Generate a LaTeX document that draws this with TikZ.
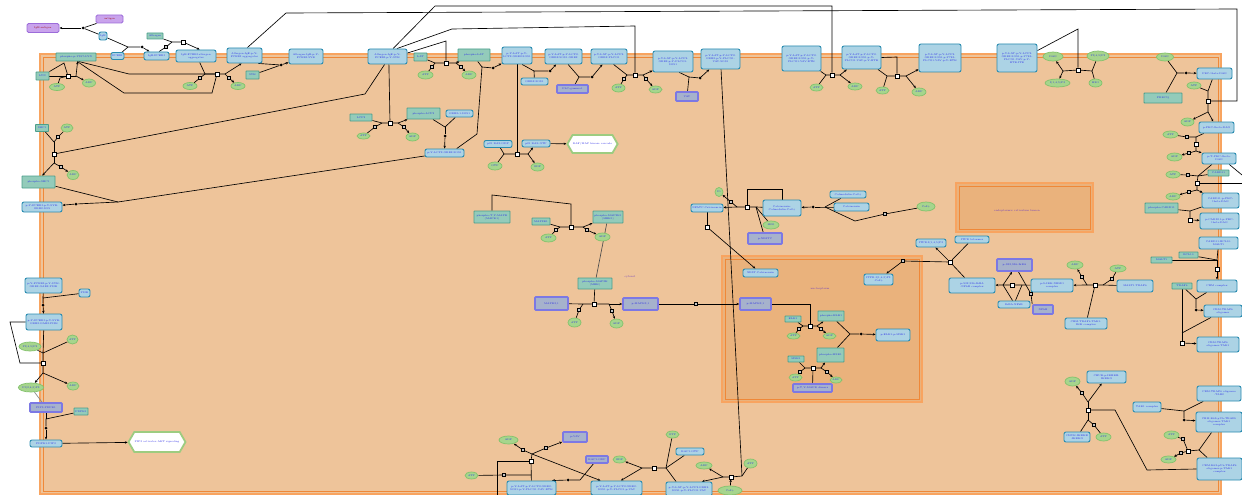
\documentclass[tikz,border=0pt]{standalone}
\usetikzlibrary{arrows.meta,shapes.geometric,shapes.symbols}
\definecolor{cytfill}{HTML}{EEC49A}
\definecolor{nucfill}{HTML}{EAB27C}
\definecolor{compout}{HTML}{F8A460}
\definecolor{compin}{HTML}{EF8838}
\definecolor{cplxfill}{HTML}{ACD3E5}
\definecolor{cplxline}{HTML}{2A8CB0}
\definecolor{protfill}{HTML}{93CBBA}
\definecolor{protline}{HTML}{4C9F8C}
\definecolor{chemfill}{HTML}{A6D58D}
\definecolor{chemline}{HTML}{83C26C}
\definecolor{setfill}{HTML}{A6B2CC}
\definecolor{setline}{HTML}{7C78E4}
\definecolor{pwline}{HTML}{9DCC80}
\definecolor{extfill}{HTML}{C9A3EC}
\definecolor{extline}{HTML}{9C6CDA}
\definecolor{txtblue}{HTML}{2A2AE6}
\definecolor{complab}{HTML}{6A3AC0}
\pgfdeclarelayer{bg}\pgfdeclarelayer{edges}\pgfsetlayers{bg,edges,main}
\tikzset{
 wh/.style 2 args={minimum width=#1pt, minimum height=#2pt},
 lab/.style={font=\fontsize{2.5}{2.9}\selectfont, text=txtblue, align=center, inner sep=0.3pt},
 cplx/.style={lab, draw=cplxline, fill=cplxfill, line width=0.9pt, rounded corners=2pt},
 prot/.style={lab, draw=protline, fill=protfill, line width=0.9pt, rounded corners=0.6pt},
 chem/.style={lab, ellipse, draw=chemline, fill=chemfill, line width=0.7pt},
 setnode/.style={lab, draw=setline, fill=setfill, line width=1.6pt, rounded corners=0.8pt},
 ext/.style={lab, draw=extline, fill=extfill, line width=0.9pt, rounded corners=1.5pt, text=red!60!black},
 pathw/.style={lab, shape=signal, signal to=east and west, signal pointer angle=120, draw=pwline, fill=white, line width=1.8pt},
 procsq/.style={draw=black, fill=white, line width=0.5pt, minimum size=4pt, inner sep=0pt},
 smsq/.style={draw=black, fill=gray!45, line width=0.4pt, minimum size=3pt, inner sep=0pt},
 bdot/.style={circle, fill=black, minimum size=3pt, inner sep=0pt},
 conn/.style={draw=black, line width=0.65pt},
 conna/.style={conn, -{Stealth[length=2.8pt,width=2.4pt]}},
 comptext/.style={font=\fontsize{2.6}{3}\selectfont, text=complab, inner sep=0pt},
}
\begin{document}
\begin{tikzpicture}[x=1pt,y=-1pt]
\useasboundingbox (0,0) rectangle (1242,495);
\begin{pgfonlayer}{bg}
\fill[white] (0,0) rectangle (1242,495);
\draw[draw=compout, line width=1.5pt, fill=cytfill] (40,54) rectangle (1221,494);
\draw[draw=compin, line width=0.7pt] (43,57) rectangle (1218,491);
\draw[draw=compout, line width=1.3pt, fill=nucfill] (722,256) rectangle (922,402);
\draw[draw=compin, line width=0.7pt] (725,259) rectangle (919,399);
\draw[draw=compout, line width=1.3pt, fill=nucfill] (956,183) rectangle (1093,232);
\draw[draw=compin, line width=0.7pt] (959,186) rectangle (1090,229);
\end{pgfonlayer}
\node[comptext] (lcyt) at (630,277) {cytosol};
\node[comptext] (lnuc) at (820,289) {nucleoplasm};
\node[comptext] (ler) at (1017,211) {endoplasmic reticulum lumen};
% ---------- top left ----------
\node[ext, wh={27}{8}] (pA) at (109.5,19) {antigen};
\node[ext, wh={32}{9}] (pB) at (43,28) {IgE:antigen};
\node[cplx, wh={8}{8}] (ige) at (103,36) {IgE};
\node[cplx, wh={13}{7}] (fceri) at (117.5,56) {FCERI};
\node[cplx, wh={25}{8}] (igefc) at (156.5,56) {IgE:FCERI};
\node[prot, wh={16}{6}] (allergen) at (155,36) {Allergen};
\node[cplx, wh={40}{12}] (agg) at (196,56) {IgE:FCERI:allergen\\aggregates};
\node[prot, wh={40}{8}] (psyk) at (76,57) {phospho-p-Y397-LYN};
\node[prot, wh={13}{8}] (lyn) at (42.5,76) {LYN};
\node[chem, wh={15}{7}] (atp1) at (57,87) {ATP};
\node[chem, wh={13}{8}] (adp1) at (89,83) {ADP};
\node[cplx, wh={35}{15}] (pfc) at (244.5,55.5) {Allergen:IgE:p-Y-\\FCERI aggregates};
\node[chem, wh={14}{7}] (atp2) at (190,86) {ATP};
\node[chem, wh={14}{7}] (adp2) at (238,86) {ADP};
\node[prot, wh={13}{8}] (syk) at (252.5,75) {SYK};
\node[cplx, wh={34}{15}] (n306) at (306,56.5) {Allergen:IgE:p-Y-\\FCERI:SYK};
\node[cplx, wh={39}{15}] (cbl) at (387.5,56.5) {Allergen:IgE:p-Y-\\FCERI:p-Y-SYK};
\node[prot, wh={13}{8}] (lat) at (420.5,57) {LAT};
\node[chem, wh={15}{8}] (atp3) at (425.5,75) {ATP};
\node[chem, wh={14}{8}] (adp3) at (469,75) {ADP};
\node[prot, wh={32}{12}] (plat) at (474,55) {phospho-LAT};
\node[prot, wh={22}{7}] (lcp2) at (361,117.5) {LCP2};
\node[chem, wh={13}{6}] (atp4) at (363.5,136) {ATP};
\node[chem, wh={13}{8}] (adp4) at (412.5,137) {ADP};
\node[prot, wh={33}{11}] (plcp2) at (423.5,113.5) {phospho-LCP2};
\node[cplx, wh={27}{7}] (grb) at (459.5,113.5) {GRB2-1:SOS1};
\node[cplx, wh={39}{8}] (lcpgrb) at (444.5,153) {p-Y-LCP2:GRB2:SOS1};
\node[cplx, wh={30}{17}] (latc1) at (517,55.5) {p-Y-LAT:p-Y-\\LCP2:GRB2:SOS1};
\node[cplx, wh={27}{7}] (grbsos2) at (534.5,81.5) {GRB2:SOS1};
\node[cplx, wh={37}{15}] (latc2) at (563.5,56.5) {p-Y-LAT:p-Y-LCP2:\\GRB2:SOS1:GRB2};
\node[setnode, wh={31}{8}] (plcg) at (572.5,89) {PLC-gamma1};
\node[cplx, wh={36}{15}] (latc3) at (609,56.5) {p-Y-LAT:p-Y-LCP2:\\GRB2:PLCG1};
\node[chem, wh={13}{8}] (atp5) at (618.5,88) {ATP};
\node[chem, wh={13}{7}] (adp5) at (655.5,89.5) {ADP};
\node[cplx, wh={40}{21}] (latc4) at (673,61.5) {p-Y-LAT:p-Y-LCP2:\\GRB2:p-Y-PLCG1:\\SOS1};
\node[setnode, wh={22}{9}] (vav) at (687,96.5) {VAV};
\node[cplx, wh={39}{20}] (latc5) at (720.5,59) {p-Y-LAT:p-Y-LCP2:\\GRB2:p-Y-PLCG1:\\VAV:SOS1};
\node[cplx, wh={28}{7}] (rasgdp) at (498,144) {p21 RAS:GDP};
\node[chem, wh={14}{8}] (gtp1) at (495,166) {GTP};
\node[chem, wh={13}{8}] (gdp1) at (537.5,167) {GDP};
\node[cplx, wh={28}{7}] (rasgtp) at (536,143.5) {p21 RAS:GTP};
\node[pathw, wh={45}{18}] (raf) at (592.5,144) {RAF/MAP kinase cascade};
% ---------- top right ----------
\node[cplx, wh={39}{25}] (c801) at (801.5,58.5) {p-Y-LAT:p-Y-LCP2:\\GRB2:SOS1:p-Y-\\PLCG1:VAV:BTK};
\node[chem, wh={13}{7}] (atp6) at (816.5,87.5) {ATP};
\node[chem, wh={14}{7}] (adp6) at (855,86.5) {ADP};
\node[cplx, wh={39}{23}] (c861) at (861.5,57.5) {p-Y-LAT:p-Y-LCP2:\\GRB2:SOS1:p-Y-\\PLCG1:VAV:p-Y-BTK};
\node[chem, wh={13}{7}] (atp7) at (882.5,90.5) {ATP};
\node[chem, wh={14}{8}] (adp7) at (919,92) {ADP};
\node[cplx, wh={42}{28}] (c940) at (940,58) {p-Y-LAT:p-Y-LCP2:\\GRB2:SOS1:p-Y783-\\PLCG1:VAV:p-Y-BTK};
\node[cplx, wh={40}{28}] (c1017) at (1017,58) {p-Y-LAT:p-Y-LCP2:\\GRB2:SOS1:p-Y783-\\PLCG1:VAV:p-Y-\\BTK:ITK};
\node[chem, wh={20}{9}] (e1053) at (1053,56.5) {DAG};
\node[chem, wh={25}{8}] (e1057) at (1057.5,83) {I(1,4,5)P3};
\node[chem, wh={22}{10}] (e1098) at (1098,56) {PI(4,5)P2};
\node[chem, wh={13}{8}] (e1095) at (1095.5,83) {H2O};
\node[chem, wh={17}{8}] (nad) at (1165,57) {DAG};
\node[prot, wh={38}{10}] (g1163) at (1163,98) {PRKCQ};
\node[cplx, wh={35}{11}] (n1214) at (1214.5,73.5) {PKC-theta:DAG};
\node[chem, wh={14}{7}] (atp8) at (1194,85.5) {ATP};
\node[chem, wh={13}{8}] (adp8) at (1187.5,122) {ADP};
\node[cplx, wh={35}{11}] (n1216) at (1216.5,127.5) {p-PKC-theta:DAG};
\node[chem, wh={15}{7}] (e1170) at (1170.5,134.5) {ATP};
\node[chem, wh={15}{8}] (adp9) at (1174.5,157) {ADP};
\node[cplx, wh={34}{11}] (n1219) at (1219,158.5) {p-T-PKC-theta:\\DAG};
\node[prot, wh={21}{6}] (card11) at (1218.5,173) {CARD11};
\node[chem, wh={14}{7}] (atp10) at (1173,174.5) {ATP};
\node[chem, wh={14}{7}] (adp10) at (1173,196.5) {ADP};
\node[cplx, wh={37}{15}] (n1220) at (1220.5,200.5) {CARD11:p-PKC-\\theta:DAG};
\node[prot, wh={33}{10}] (g1161) at (1161.5,208) {phospho-CARD11};
\node[cplx, wh={39}{16}] (n1219b) at (1219.5,221) {p-CARD11:p-PKC-\\theta:DAG};
\node[cplx, wh={39}{12}] (n1218) at (1218.5,243) {CARD11:BCL10:\\MALT1};
\node[prot, wh={19}{6}] (g1188) at (1188.5,255) {BCL10};
\node[prot, wh={21}{6}] (g1161b) at (1161.5,260) {MALT1};
\node[cplx, wh={40}{12}] (n1217) at (1217,286) {CBM complex};
\node[prot, wh={20}{6}] (traf6) at (1182,286) {TRAF6};
\node[cplx, wh={38}{12}] (n1223) at (1223,311) {CBM:TRAF6\\oligomer};
\node[cplx, wh={42}{15}] (n1218b) at (1218,344.5) {CBM:TRAF6\\oligomer:TAK1};
% ---------- middle right ----------
\node[cplx, wh={36}{12}] (n1135) at (1135,286) {MALT1:TRAF6};
\node[chem, wh={16}{7}] (atp11) at (1118,268.5) {ATP};
\node[chem, wh={16}{8}] (adp11) at (1075,265) {ADP};
\node[cplx, wh={42}{13}] (n1052) at (1052,285.5) {p-S-IKK:NEMO\\complex};
\node[cplx, wh={42}{11}] (n1086) at (1086,323.5) {CBM:TRAF6:TAK1:\\IKK complex};
\node[setnode, wh={35}{12}] (set1014) at (1014.5,265) {p-S32,S36-IkBA};
\node[setnode, wh={20}{9}] (set1043) at (1043,309.5) {NFkB};
\node[cplx, wh={32}{7}] (n1014) at (1014,304.5) {IkBA:NFkB};
\node[cplx, wh={46}{15}] (n972) at (972,285.5) {p-S32,S36-IkBA\\:NFkB complex};
\node[cplx, wh={30}{8}] (n931) at (931,243) {ITPR:I(1,4,5)P3};
\node[cplx, wh={34}{7}] (n972b) at (972,239.5) {ITPR tetramer};
\node[cplx, wh={29}{11}] (n878) at (878.5,279.5) {ITPR:I(1,4,5)P3\\:Ca2+};
% ---------- bottom right ----------
\node[cplx, wh={39}{12}] (n1106) at (1106.5,377) {CHUK:p-IKBKB:\\IKBKG};
\node[chem, wh={15}{9}] (e1072) at (1072.5,381.5) {ADP};
\node[cplx, wh={26}{10}] (n1077) at (1077,437) {CHUK:IKBKB\\:IKBKG};
\node[chem, wh={15}{8}] (e1103) at (1103.5,437) {ATP};
\node[cplx, wh={28}{10}] (n1147) at (1147,407) {TAK1 complex};
\node[cplx, wh={44}{15}] (n1219c) at (1219,393.5) {CBM:TRAF6 oligomer\\:TAB2};
\node[cplx, wh={46}{20}] (n1219d) at (1219,422) {CBM:K63-pUb-TRAF6\\oligomer:TAK1\\complex};
\node[chem, wh={15}{8}] (atp12) at (1171.5,435) {ATP};
\node[chem, wh={15}{7}] (adp12) at (1168.5,459.5) {ADP};
\node[cplx, wh={45}{22}] (n1219e) at (1219.5,469) {CBM:K63-pUb-TRAF6\\oligomer:p-TAK1\\complex};
% ---------- center ----------
\node[cplx, wh={32}{8}] (n707) at (707,208) {NFATC:Calcineurin};
\node[chem, wh={8}{9}] (ca1) at (719,192) {Pi};
\node[cplx, wh={38}{16}] (n782) at (782,208) {Calcineurin:\\Calmodulin:Ca2+};
\node[chem, wh={16}{8}] (h2o) at (771,225) {H2O};
\node[setnode, wh={34}{11}] (set765) at (765,238.5) {p-NFATC};
\node[cplx, wh={36}{7}] (n848) at (848,194.5) {Calmodulin:Ca2+};
\node[cplx, wh={35}{8}] (n851) at (851.5,207) {Calcineurin};
\node[chem, wh={18}{9}] (e926) at (926,206.5) {Ca2+};
\node[cplx, wh={35}{8}] (n760) at (760.5,273) {NFAT:Calcineurin};
\node[prot, wh={36}{12}] (g492) at (492,217) {phospho-T,Y-MAPK\\(MAPK1)};
\node[prot, wh={18}{7}] (g541) at (541,221.5) {MAP2K1};
\node[chem, wh={15}{8}] (atp13) at (548.5,238) {ATP};
\node[prot, wh={30}{12}] (g608) at (608,217) {phospho-MAP2K1\\(MEK1)};
\node[chem, wh={15}{8}] (adp13) at (602.5,237) {ADP};
\node[prot, wh={34}{11}] (g595) at (595,283.5) {phospho-MAP2K\\(MEK)};
\node[setnode, wh={33}{13}] (set551) at (551.5,303.5) {MAPK3,1};
\node[chem, wh={13}{9}] (atp14) at (574.5,322.5) {ATP};
\node[chem, wh={13}{9}] (adp14) at (616.5,323.5) {ADP};
\node[setnode, wh={35}{12}] (set640) at (640.5,304) {p-MAPK3,1};
\node[setnode, wh={31}{12}] (set755) at (755.5,304) {p-MAPK3,1};
\node[prot, wh={16}{6}] (g793) at (793,319) {ELK1};
\node[chem, wh={13}{6}] (e793) at (793.5,336) {ATP};
\node[prot, wh={26}{10}] (g831) at (831,316) {phospho-ELK1};
\node[chem, wh={13}{6}] (e829) at (829.5,336) {ADP};
\node[cplx, wh={34}{12}] (n893) at (893,335) {p-ELK1:p-MSK1};
\node[prot, wh={27}{14}] (g830) at (830.5,355) {phospho-MSK1};
\node[prot, wh={16}{6}] (g796) at (796,359) {MSK1};
\node[chem, wh={13}{7}] (e795) at (795.5,377.5) {ATP};
\node[chem, wh={12}{6}] (e836) at (836,380) {ADP};
\node[setnode, wh={39}{8}] (set812) at (812.5,388) {p-T,Y-MAPK dimers};
% ---------- left ----------
\node[cplx, wh={40}{10}] (n42) at (42,207) {p-Y-FCERI:p-Y-SYK:\\GRB2:SOS};
\node[prot, wh={33}{12}] (g38) at (38.5,182) {phospho-SHC1};
\node[prot, wh={13}{7}] (g42) at (42,128) {SHC1};
\node[chem, wh={12}{8}] (atp15) at (67,128) {ATP};
\node[chem, wh={12}{9}] (adp15) at (73,175) {ADP};
\node[cplx, wh={37}{15}] (n43) at (43.5,285.5) {p-Y-FCERI:p-Y-SYK:\\GRB2:GAB2:PI3K};
\node[cplx, wh={11}{8}] (n84) at (84.5,293) {PI3K};
\node[cplx, wh={36}{16}] (n44) at (44,322) {p-Y-FCERI:p-Y-SYK:\\GRB2:GAB2:PI3K};
\node[chem, wh={22}{9}] (e30) at (30,346.5) {PI(4,5)P2};
\node[chem, wh={11}{9}] (atp16) at (72.5,339.5) {ATP};
\node[chem, wh={24}{9}] (e31) at (31,387.5) {PI(3,4,5)P3};
\node[chem, wh={12}{8}] (adp16) at (73,386) {ADP};
\node[setnode, wh={32}{9}] (set46) at (46,407.5) {PIP3:PDPK1};
\node[prot, wh={14}{7}] (g81) at (81,411.5) {PDPK1};
\node[cplx, wh={32}{7}] (n46) at (46,443.5) {PDPK1:PIP3};
\node[pathw, wh={42}{20}] (pw157) at (157,442) {PIP3 activates AKT signaling};
% ---------- bottom middle ----------
\node[chem, wh={19}{8}] (e508) at (508.5,440) {ADP};
\node[setnode, wh={24}{10}] (set575) at (575,437) {p-VAV};
\node[chem, wh={13}{7}] (atp17) at (471.5,475.5) {ATP};
\node[cplx, wh={49}{14}] (n531) at (531.5,488) {p-Y-LAT:p-Y-LCP2:GRB2:\\SOS1:p-Y-PLCG1:VAV:BTK};
\node[cplx, wh={51}{14}] (n616) at (616.5,488) {p-Y-LAT:p-Y-LCP2:GRB2:\\SOS1:p-Y-PLCG1:p-VAV};
\node[setnode, wh={22}{7}] (set597) at (597,459.5) {RAC1:GDP};
\node[chem, wh={13}{7}] (e619) at (619.5,459.5) {GDP};
\node[chem, wh={13}{7}] (e672) at (672.5,434.5) {GTP};
\node[cplx, wh={28}{7}] (n690) at (690,451.5) {RAC1:GTP};
\node[cplx, wh={46}{14}] (n689) at (689,489) {p-Y-LAT:p-Y-LCP2:GRB2:\\SOS1:p-Y-PLCG1:VAV};
\node[chem, wh={16}{7}] (e704) at (704,465.5) {ADP};
\node[chem, wh={13}{9}] (e750) at (750.5,463.5) {ATP};
\node[chem, wh={24}{9}] (ca2) at (730,490.5) {Ca2+};
% ---------- reaction glyphs ----------
\node[bdot] (d1) at (83,28) {};
\coordinate (j2) at (128,47); \node[bdot] (d2) at (142,47) {};
\node[smsq] (s3) at (166,47) {}; \coordinate (j3) at (172,42); \node[procsq] (p3) at (183,42) {};
\node[procsq] (p4) at (68,76) {}; \coordinate (j4a) at (60,78); \coordinate (c4) at (64,63); \coordinate (j4b) at (76,76);
\node[procsq] (p5) at (217,74) {}; \coordinate (j5a) at (205,74); \coordinate (j5b) at (225,74);
\node[smsq] (s5a) at (200,78) {}; \node[smsq] (s5b) at (229,78) {};
\coordinate (c5a) at (129,74); \coordinate (c5b) at (124,93); \coordinate (c5c) at (212,93);
\node[bdot] (d6) at (281,65) {};
\coordinate (t7a) at (286,13); \coordinate (t7b) at (1237,9); \coordinate (t7c) at (1237,101);
\coordinate (t8a) at (435,6); \coordinate (t8b) at (832,6);
\node[procsq] (p8) at (446,63) {}; \coordinate (j8a) at (435,63); \coordinate (j8b) at (456,63);
\node[smsq] (s8a) at (432,67) {}; \node[smsq] (s8b) at (461,67) {}; \coordinate (c8) at (446,41);
\node[procsq] (p9b) at (390,123) {}; \coordinate (j9a) at (382,123); \coordinate (j9b) at (398,123);
\node[smsq] (s9a) at (375,127) {}; \node[smsq] (s9b) at (404,127) {};
\coordinate (j10) at (445,127); \node[bdot] (d10) at (445,136) {};
\coordinate (j11a) at (482,67); \coordinate (j11b) at (477,134); \node[bdot] (d11) at (493,68) {};
\node[procsq] (p12) at (517,154) {}; \coordinate (j12a) at (504,154); \coordinate (j12b) at (528,154);
\coordinate (j13) at (534,71); \node[bdot] (d13) at (550,71) {};
\coordinate (j14) at (579,77); \node[bdot] (d14) at (592,77) {};
\node[procsq] (p15) at (635,75) {}; \coordinate (j15a) at (627,75); \coordinate (j15b) at (643,75);
\node[smsq] (s15a) at (624,79) {}; \node[smsq] (s15b) at (646,79) {};
\coordinate (c15a) at (452,29); \coordinate (c15b) at (635,26);
\coordinate (j16) at (689,77); \node[bdot] (d16) at (700,78) {};
\coordinate (j17) at (742,476); \node[procsq] (p17) at (731,477) {}; \coordinate (j17b) at (723,477);
\node[procsq] (p18) at (531,461) {}; \coordinate (j18) at (532,454);
\node[smsq] (s18a) at (523,450) {}; \node[smsq] (s18b) at (546,448) {}; \node[smsq] (s18c) at (504,475) {};
\coordinate (c18a) at (497,461); \coordinate (c18b) at (497,495); \coordinate (c18c) at (531,475);
\node[bdot] (d19) at (568,480) {}; \coordinate (j19) at (580,480);
\node[procsq] (p20) at (654,468) {}; \coordinate (j20a) at (642,468); \coordinate (j20b) at (666,468);
\node[smsq] (s21a) at (58,137) {}; \coordinate (j21a) at (54,142); \node[procsq] (p21) at (54,154) {};
\coordinate (j21b) at (54,163); \node[smsq] (s21b) at (61,167) {}; \coordinate (c21) at (365,94);
\coordinate (j22) at (118,202); \node[bdot] (d22) at (76,204) {};
\coordinate (j23) at (43,298); \node[bdot] (d23) at (43,305) {};
\node[procsq] (p24) at (43,363) {}; \coordinate (j24a) at (43,353); \coordinate (j24b) at (43,373);
\coordinate (c24a) at (10,322); \coordinate (c24b) at (20,363);
\coordinate (j25) at (46,419); \node[bdot] (d25) at (46,428) {};
\node[procsq] (p26) at (571,227) {}; \coordinate (j26a) at (560,227); \coordinate (j26b) at (583,227);
\node[smsq] (s26a) at (556,230) {}; \node[smsq] (s26b) at (587,230) {};
\coordinate (c26a) at (492,195); \coordinate (c26b) at (571,204);
\node[procsq] (p27) at (594,304) {}; \coordinate (j27a) at (583,304); \coordinate (j27b) at (609,304);
\node[smsq] (s27a) at (579,310) {}; \node[smsq] (s27b) at (612,311) {};
\node[smsq] (s28) at (696,304) {};
\coordinate (c29a) at (810,304); \node[procsq] (p29) at (810,326) {};
\coordinate (j29a) at (803,326); \coordinate (j29b) at (817,326);
\node[smsq] (s29a) at (799,329) {}; \node[smsq] (s29b) at (821,329) {};
\coordinate (j30) at (850,334); \node[bdot] (d30) at (861,334) {};
\node[procsq] (p31) at (813,368) {}; \coordinate (j31a) at (805,368); \coordinate (j31b) at (821,368);
\node[smsq] (s31a) at (800,372) {}; \node[smsq] (s31b) at (827,372) {};
\node[procsq] (p32) at (747,207) {}; \coordinate (j32a) at (737,207); \coordinate (j32b) at (756,207);
\node[smsq] (s32) at (731,202) {}; \coordinate (c32a) at (747,189); \coordinate (c32b) at (782,189);
\coordinate (j33) at (825,207); \node[bdot] (d33) at (813,207) {}; \coordinate (c33a) at (855,221);
\node[smsq] (s33) at (885,214) {};
\node[procsq] (p34) at (707,227) {};
\node[procsq] (p35) at (950,262) {}; \node[smsq] (s35) at (903,261) {};
\node[procsq] (p36) at (1095,285) {}; \coordinate (j36a) at (1103,285); \coordinate (j36b) at (1087,285);
\node[smsq] (s36a) at (1112,279) {}; \node[smsq] (s36b) at (1082,277) {};
\node[procsq] (p37) at (1012,285) {}; \coordinate (j37) at (1003,285); \coordinate (j37b) at (1022,285);
\node[smsq] (s37) at (1031,294) {};
\node[procsq] (p38) at (1078,70) {}; \coordinate (j38a) at (1063,71); \coordinate (j38b) at (1092,71);
\coordinate (c38) at (1078,29);
\coordinate (j39) at (1177,73); \node[bdot] (d39) at (1186,73) {};
\node[procsq] (p40) at (1208,101) {}; \coordinate (j40a) at (1208,91); \coordinate (j40b) at (1208,112);
\node[procsq] (p41) at (1196,144) {}; \coordinate (j41a) at (1196,137); \coordinate (j41b) at (1196,151);
\node[smsq] (s41a) at (1187,137) {}; \node[smsq] (s41b) at (1189,153) {};
\node[procsq] (p42) at (1197,183) {}; \coordinate (j42a) at (1198,176); \coordinate (j42b) at (1197,190);
\node[smsq] (s42a) at (1188,175) {}; \node[smsq] (s42b) at (1189,192) {};
\coordinate (c42) at (1242,183); \coordinate (c42b) at (1242,175);
\coordinate (j43) at (1190,211); \node[procsq] (p43) at (1190,220) {};
\coordinate (j44) at (1217,260); \node[procsq] (p44) at (1217,269) {};
\coordinate (j45) at (1196,299); \node[bdot] (d45) at (1196,310) {};
\coordinate (c46) at (1182,333); \node[procsq] (p46) at (1182,343) {};
\node[procsq] (p47) at (1088,410) {}; \coordinate (j47a) at (1088,402); \coordinate (j47b) at (1088,420);
\node[smsq] (s47a) at (1082,393) {}; \node[smsq] (s47b) at (1094,425) {};
\coordinate (c47a) at (1115,410); \coordinate (c47b) at (1147,470);
\coordinate (j48) at (1184,411); \node[bdot] (d48) at (1184,420) {};
\node[procsq] (p49) at (1188,451) {}; \coordinate (j49) at (1199,450);
\node[smsq] (s49a) at (1183,439) {}; \node[smsq] (s49b) at (1181,453) {};
\node[procsq] (pT1) at (832,75) {}; \coordinate (jT1a) at (826,75); \coordinate (jT1b) at (840,75);
\node[procsq] (pT2) at (897,76) {}; \coordinate (jT2a) at (887,76); \coordinate (jT2b) at (906,76);
\coordinate (cT2) at (897,57);
% ---------- connectors ----------
\begin{pgfonlayer}{edges}
\draw[conn] (pA) -- (d1); \draw[conn] (ige) -- (d1); \draw[conna] (d1) -- (pB);
\draw[conn] (ige) -- (j2) -- (d2); \draw[conn] (fceri) -- (j2); \draw[conna] (d2) -- (igefc);
\draw[conn] (igefc.60) -- (s3) -- (j3) -- (p3); \draw[conn] (allergen) -- (j3); \draw[conna] (p3) -- (agg.60);
\draw[conn] (lyn) -- (p4); \draw[conn] (atp1) -- (j4a) -- (p4); \draw[conn] (lyn.north east) -- (c4) -- (p4);
\draw[conn] (p4) -- (j4b); \draw[conna] (j4b) -- (psyk.290); \draw[conna] (j4b) -- (adp1);
\draw[conn] (agg.300) -- (j5a) -- (p5) -- (j5b); \draw[conn] (atp2) -- (s5a) -- (j5a);
\draw[conn] (j5b) -- (s5b); \draw[conna] (s5b) -- (adp2); \draw[conna] (j5b) -- (pfc.250);
\draw[conn] (psyk.300) -- (c5a) -- (p5); \draw[conn] (psyk.285) -- (c5b) -- (c5c) -- (p5);
\draw[conn] (pfc.330) -- (d6); \draw[conn] (syk) -- (d6); \draw[conna] (d6) -- (n306);
\draw[conn] (pfc.70) -- (t7a) -- (t7b) -- (t7c) -- (p40);
\draw[conn] (cbl.55) -- (t8a) -- (t8b) -- (pT1);
\draw[conn] (lat) -- (j8a) -- (p8) -- (j8b); \draw[conn] (atp3) -- (s8a) -- (j8a);
\draw[conna] (j8b) -- (plat); \draw[conn] (j8b) -- (s8b); \draw[conna] (s8b) -- (adp3);
\draw[conn] (cbl.10) -- (c8) -- (p8);
\draw[conn] (lcp2) -- (j9a) -- (p9b) -- (j9b); \draw[conn] (atp4) -- (s9a) -- (j9a);
\draw[conna] (j9b) -- (plcp2); \draw[conn] (j9b) -- (s9b); \draw[conna] (s9b) -- (adp4);
\draw[conn] (cbl.280) -- (p9b);
\draw[conn] (plcp2) -- (j10); \draw[conn] (grb) -- (j10); \draw[conn] (j10) -- (d10); \draw[conna] (d10) -- (lcpgrb);
\draw[conn] (plat.300) -- (j11a); \draw[conn] (lcpgrb.20) -- (j11b) -- (j11a); \draw[conn] (j11a) -- (d11); \draw[conna] (d11) -- (latc1);
\draw[conn] (latc1) -- (p12); \draw[conn] (rasgdp) -- (j12a) -- (p12) -- (j12b); \draw[conn] (gtp1) -- (j12a);
\draw[conna] (j12b) -- (rasgtp); \draw[conna] (j12b) -- (gdp1); \draw[conna] (rasgtp) -- (raf);
\draw[conn] (latc1.300) -- (j13); \draw[conn] (grbsos2) -- (j13) -- (d13); \draw[conna] (d13) -- (latc2);
\draw[conn] (latc2.300) -- (j14); \draw[conn] (plcg) -- (j14) -- (d14); \draw[conna] (d14) -- (latc3);
\draw[conn] (latc3.300) -- (j15a) -- (p15) -- (j15b); \draw[conn] (atp5) -- (s15a) -- (j15a);
\draw[conna] (j15b) -- (latc4); \draw[conn] (j15b) -- (s15b); \draw[conna] (s15b) -- (adp5);
\draw[conn] (cbl.40) -- (c15a) -- (c15b) -- (p15);
\draw[conn] (latc4.300) -- (j16); \draw[conn] (vav) -- (j16) -- (d16); \draw[conna] (d16) -- (latc5);
\draw[conn] (latc5) -- (j17); \draw[conn] (e750) -- (j17) -- (p17) -- (j17b);
\draw[conna] (ca2) -- (p17); \draw[conna] (j17b) -- (e704); \draw[conna] (j17b) -- (n689.30);
\draw[conn] (n531) -- (p18); \draw[conn] (p18) -- (j18); \draw[conn] (j18) -- (s18a); \draw[conna] (s18a) -- (e508);
\draw[conn] (j18) -- (s18b); \draw[conna] (s18b) -- (set575);
\draw[conn] (c18b) -- (c18a) -- (p18); \draw[conn] (atp17) -- (s18c) -- (c18c);
\draw[conna] (j18) -- (n616.155);
\draw[conn] (set597) -- (j19) -- (d19); \draw[conna] (d19) -- (n531.20);
\draw[conn] (n689.150) -- (j20b); \draw[conn] (e672) -- (j20b); \draw[conn] (n690) -- (j20b) -- (p20) -- (j20a);
\draw[conna] (j20a) -- (e619); \draw[conna] (j20a) -- (n616.60);
\draw[conn] (g42) -- (j21a); \draw[conn] (atp15) -- (s21a) -- (j21a); \draw[conn] (j21a) -- (p21) -- (j21b);
\draw[conna] (j21b) -- (g38.60); \draw[conn] (j21b) -- (s21b); \draw[conna] (s21b) -- (adp15);
\draw[conn] (cbl.250) -- (c21) -- (p21);
\draw[conn] (g38) -- (j22); \draw[conn] (lcpgrb) -- (j22); \draw[conn] (j22) -- (d22); \draw[conna] (d22) -- (n42);
\draw[conn] (n43) -- (j23); \draw[conn] (n84) -- (j23) -- (d23); \draw[conna] (d23) -- (n44);
\draw[conn] (n44) -- (j24a) -- (p24) -- (j24b); \draw[conn] (atp16) -- (j24a); \draw[conn] (e30) -- (j24a);
\draw[conna] (j24b) -- (e31); \draw[conna] (j24b) -- (adp16);
\draw[conn] (n44.west) -- (c24a) -- (c24b) -- (p24);
\draw[conn, gray] (e31) -- (set46);
\draw[conn] (set46) -- (j25); \draw[conn] (g81) -- (j25) -- (d25); \draw[conna] (d25) -- (n46); \draw[conna] (n46) -- (pw157);
\draw[conn] (g541) -- (j26a) -- (p26) -- (j26b); \draw[conn] (atp13) -- (s26a) -- (j26a);
\draw[conna] (j26b) -- (g608); \draw[conn] (j26b) -- (s26b); \draw[conna] (s26b) -- (adp13);
\draw[conn] (g492) -- (c26a) -- (c26b) -- (p26);
\draw[conn, gray!60!black] (g608) -- (g595);
\draw[conn] (set551) -- (j27a) -- (p27) -- (j27b); \draw[conna] (j27b) -- (set640);
\draw[conn] (atp14) -- (s27a) -- (j27a); \draw[conn] (j27b) -- (s27b); \draw[conna] (s27b) -- (adp14);
\draw[conn] (g595) -- (p27);
\draw[conn] (set640) -- (s28); \draw[conna] (s28) -- (set755);
\draw[conn] (set755) -- (c29a) -- (p29); \draw[conn] (g793) -- (j29a) -- (p29) -- (j29b);
\draw[conn] (e793) -- (s29a) -- (j29a); \draw[conna] (j29b) -- (g831); \draw[conn] (j29b) -- (s29b); \draw[conna] (s29b) -- (e829);
\draw[conn] (g831) -- (j30); \draw[conn] (g830) -- (j30) -- (d30); \draw[conna] (d30) -- (n893);
\draw[conn] (g796) -- (j31a) -- (p31) -- (j31b); \draw[conn] (e795) -- (s31a) -- (j31a);
\draw[conna] (j31b) -- (g830); \draw[conn] (j31b) -- (s31b); \draw[conna] (s31b) -- (e836); \draw[conn] (set812) -- (p31);
\draw[conn] (n782) -- (j32b) -- (p32) -- (j32a); \draw[conna] (j32a) -- (n707); \draw[conn] (j32a) -- (s32); \draw[conna] (s32) -- (ca1);
\draw[conn] (n782.north) -- (c32b) -- (c32a) -- (p32); \draw[conn] (j32b) -- (set765); \draw[conn] (j32b) -- (h2o);
\draw[conn] (n848) -- (j33); \draw[conn] (n851) -- (j33) -- (d33); \draw[conna] (d33) -- (n782);
\draw[conn] (j33) -- (c33a) -- (s33) -- (e926);
\draw[conn] (n707) -- (p34); \draw[conna] (p34) -- (n760);
\draw[conn] (n972b) -- (p35); \draw[conn] (n972) -- (p35); \draw[conna] (p35) -- (n931);
\draw[conn] (p35) -- (s35); \draw[conna] (s35) -- (n878);
\draw[conn] (n1135) -- (j36a) -- (p36) -- (j36b); \draw[conn] (atp11) -- (s36a) -- (j36a);
\draw[conna] (j36b) -- (n1052); \draw[conn] (j36b) -- (s36b); \draw[conna] (s36b) -- (adp11); \draw[conn] (n1086) -- (p36);
\draw[conn] (n1052) -- (j37b) -- (p37) -- (j37); \draw[conna] (j37) -- (n972);
\draw[conna] (j37) -- (set1014.250); \draw[conn] (j37) -- (n1014.110); \draw[conn] (j37b) -- (n1014.70);
\draw[conn] (set1014.300) -- (s37) -- (set1043.north west);
\draw[conn] (j38a) -- (p38) -- (j38b); \draw[conna] (j38a) -- (e1053); \draw[conna] (j38a) -- (e1057);
\draw[conn] (e1098) -- (j38b); \draw[conn] (e1095) -- (j38b); \draw[conn] (c1017.20) -- (c38) -- (p38);
\draw[conn] (nad) -- (j39); \draw[conn] (g1163) -- (j39) -- (d39); \draw[conna] (d39) -- (n1214);
\draw[conn] (n1214) -- (j40a) -- (p40) -- (j40b); \draw[conn] (atp8) -- (j40a);
\draw[conna] (j40b) -- (adp8); \draw[conna] (j40b) -- (n1216);
\draw[conn] (n1216) -- (j41a) -- (p41) -- (j41b); \draw[conn] (e1170) -- (s41a) -- (j41a);
\draw[conn] (j41b) -- (s41b); \draw[conna] (s41b) -- (adp9); \draw[conna] (j41b) -- (n1219);
\draw[conn] (n1219) -- (j42a); \draw[conn] (card11) -- (j42a); \draw[conn] (atp10) -- (s42a) -- (j42a);
\draw[conn] (j42a) -- (p42) -- (j42b); \draw[conn] (j42b) -- (s42b); \draw[conna] (s42b) -- (adp10); \draw[conna] (j42b) -- (n1220);
\draw[conn] (p42) -- (c42); \draw[conn] (n1219.330) -- (c42b);
\draw[conn] (g1161) -- (j43); \draw[conn] (n1220) -- (j43) -- (p43); \draw[conna] (p43) -- (n1219b);
\draw[conn] (n1218) -- (j44); \draw[conn] (g1188) -- (j44); \draw[conn] (g1161b) -- (j44); \draw[conn] (j44) -- (p44); \draw[conna] (p44) -- (n1217);
\draw[conn] (traf6) -- (j45); \draw[conn] (n1217) -- (j45) -- (d45); \draw[conna] (d45) -- (n1223);
\draw[conn] (traf6) -- (c46) -- (p46); \draw[conn] (n1223) -- (c46); \draw[conna] (p46) -- (n1218b);
\draw[conna] (j47a) -- (n1106); \draw[conn] (j47a) -- (s47a); \draw[conna] (s47a) -- (e1072);
\draw[conn] (j47a) -- (p47) -- (j47b); \draw[conn] (n1077) -- (j47b); \draw[conn] (j47b) -- (s47b) -- (e1103);
\draw[conn] (n1219e.west) -- (c47b) -- (c47a) -- (p47);
\draw[conn] (n1147) -- (j48); \draw[conn] (n1219c) -- (j48) -- (d48); \draw[conna] (d48) -- (n1219d);
\draw[conn] (n1219d) -- (j49) -- (p49); \draw[conn] (atp12) -- (s49a) -- (p49); \draw[conn] (p49) -- (s49b); \draw[conna] (s49b) -- (adp12);
\draw[conn] (n1219e) -- (j49);
\draw[conn] (c801) -- (jT1a) -- (pT1) -- (jT1b); \draw[conn] (atp6) -- (jT1a); \draw[conna] (jT1b) -- (c861); \draw[conna] (jT1b) -- (adp6);
\draw[conn] (c861) -- (jT2a) -- (pT2) -- (jT2b); \draw[conn] (atp7) -- (jT2a); \draw[conna] (jT2b) -- (c940); \draw[conna] (jT2b) -- (adp7);
\draw[conn] (c861.east) -- (cT2) -- (pT2);
\end{pgfonlayer}
\end{tikzpicture}
\end{document}
